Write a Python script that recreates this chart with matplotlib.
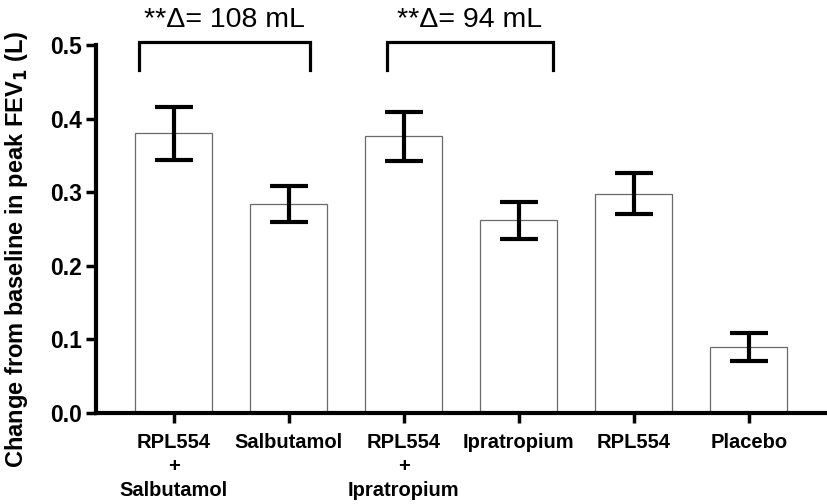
import numpy as np
import matplotlib
matplotlib.use("Agg")
from matplotlib import pyplot as plt

# data
groups = ["RPL554\n+\nSalbutamol", "Salbutamol", "RPL554\n+\nIpratropium",
          "Ipratropium", "RPL554", "Placebo"]
means = [0.380, 0.284, 0.376, 0.262, 0.298, 0.090]
errs = [0.036, 0.025, 0.033, 0.025, 0.028, 0.019]

# comparison brackets: (left x, right x, label)
brackets = [(-0.30, 1.18, "**\u0394= 108 mL"),
            (1.85, 3.30, "**\u0394= 94 mL")]

plt.rcParams['font.family'] = ['Liberation Sans', 'DejaVu Sans']

fig = plt.figure(figsize=(8.27, 5.04), dpi=100)
ax = fig.add_axes([0.116, 0.1806, 0.884, 0.7301])

x = np.arange(len(groups))
ax.bar(x, means, width=0.67, color="white", edgecolor="#6a6a6a", linewidth=0.9, zorder=2)
ax.errorbar(x, means, yerr=errs, fmt="none", ecolor="black", elinewidth=3,
            capsize=13.5, capthick=3, zorder=3)

for x0, x1, label in brackets:
    ax.plot([x0, x0, x1, x1], [0.466, 0.504, 0.504, 0.466], color="black",
            lw=2.3, clip_on=False, solid_joinstyle="miter")
    ax.text((x0 + x1) / 2, 0.524, label, ha="center", va="baseline", fontsize=20.5)

ax.set_xlim(-0.678, 5.68)
ax.set_ylim(0, 0.5)
ax.set_yticks([0.0, 0.1, 0.2, 0.3, 0.4, 0.5])
ax.set_yticklabels(["0.0", "0.1", "0.2", "0.3", "0.4", "0.5"], fontsize=16.5, fontweight="bold")
ax.set_xticks(x)
ax.set_xticklabels(groups, fontsize=14.5, fontweight="bold", linespacing=1.32)

ax.set_ylabel("Change from baseline in peak FEV$_\\mathbf{1}$ (L)", fontsize=17, fontweight="bold")
ax.yaxis.set_label_coords(-0.09, 0.446)

for side in ["top", "right"]:
    ax.spines[side].set_visible(False)
for side in ["left", "bottom"]:
    ax.spines[side].set_linewidth(3)
ax.tick_params(axis="both", width=2.5, length=7)
ax.tick_params(axis="y", pad=3)
ax.tick_params(axis="x", pad=7.5)

fig.savefig("out.png", dpi=100)
